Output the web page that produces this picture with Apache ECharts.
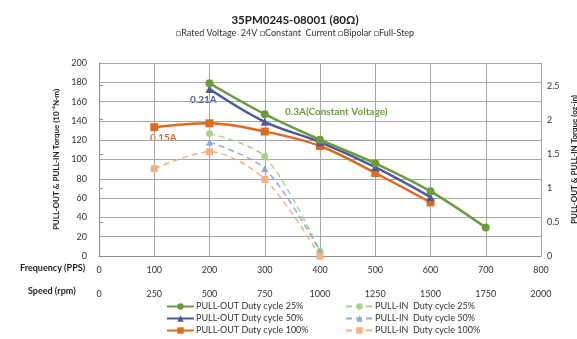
<!DOCTYPE html>
<html><head><meta charset="utf-8">
<script src="https://cdn.jsdelivr.net/npm/echarts@6/dist/echarts.min.js"></script>
<style>html,body{margin:0;padding:0;background:#fff}#c{width:577px;height:339px}</style>
</head><body><div id="c"></div>
<script>
const freqTicks = [0,100,200,300,400,500,600,700,800];
const speedTicks = [0,250,500,750,1000,1250,1500,1750,2000];
const pullOut25 = [[200,179],[300,147],[400,120.5],[500,96],[600,67],[700,29.5]];
const pullOut50 = [[200,173],[300,139],[400,118],[500,92],[600,61]];
const pullOut100 = [[100,133.5],[200,137.5],[300,129],[400,114],[500,86],[600,55.5]];
const pullIn25 = [[200,127],[300,103],[400,5]];
const pullIn50 = [[200,118],[300,90.5],[400,5]];
const pullIn100 = [[100,90.5],[200,108],[300,79.5],[400,0]];
const NM_TO_OZIN = 0.0141612; // 10^-4 N·m -> oz-in

const F = 'Lato, "Liberation Sans", sans-serif';
const C = {g:'#6a9c3e', b:'#4b5a9b', o:'#e0691e', lg:'#a9d18e', lb:'#8faadc', lo:'#f4b183'};

const N = {
  o25:'PULL-OUT Duty cycle 25%', o50:'PULL-OUT Duty cycle 50%', o100:'PULL-OUT Duty cycle 100%',
  i25:'PULL-IN  Duty cycle 25%', i50:'PULL-IN  Duty cycle 50%', i100:'PULL-IN  Duty cycle 100%'
};

function outS(name, data, color, symbol, size){
  return {name, type:'line', data, smooth:0.35, symbol, symbolSize:size, showSymbol:true,
    lineStyle:{color, width:2.5}, itemStyle:{color}, xAxisIndex:0, yAxisIndex:0, z:3};
}
function inS(name, data, color, symbol, size){
  return {name, type:'line', data, smooth:0.3, symbol, symbolSize:size,
    lineStyle:{color, width:1.5, type:[6,4]}, itemStyle:{color}, xAxisIndex:0, yAxisIndex:0, z:2};
}
function leg(name, left, top){
  return {data:[name], left, top, orient:'horizontal', itemWidth:27, itemHeight:8, padding:0,
    textStyle:{fontFamily:F, fontSize:9, color:'#333', padding:[0,0,0,-3]}};
}

const chart = echarts.init(document.getElementById('c'), null, {renderer:'canvas'});
chart.setOption({
  animation:false,
  textStyle:{fontFamily:F},
  title:{text:'35PM024S-08001 (80Ω)', subtext:'□Rated Voltage  24V □Constant  Current □Bipolar □Full-Step',
    left:290, textAlign:'center', top:9, itemGap:3,
    textStyle:{fontFamily:F, fontSize:11.5, fontWeight:'bold', color:'#222'},
    subtextStyle:{fontFamily:F, fontSize:9, color:'#333'}},
  grid:{left:99, right:36, top:63, bottom:83, containLabel:false, outerBoundsMode:'none'},
  legend:[
    leg(N.o25,166,302), leg(N.o50,166,314), leg(N.o100,166,326),
    leg(N.i25,345,302), leg(N.i50,345,314), leg(N.i100,345,326)
  ],
  xAxis:[
    {type:'value', min:freqTicks[0], max:freqTicks[freqTicks.length-1], interval:100, position:'bottom',
     axisLine:{show:true, lineStyle:{color:'#8c8c8c', width:1}}, axisTick:{show:false},
     axisLabel:{fontFamily:F, fontSize:9, color:'#333', margin:10},
     splitLine:{show:true, lineStyle:{color:'#a6a6a6', width:1}}},
    {type:'value', min:speedTicks[0], max:speedTicks[speedTicks.length-1], interval:250, position:'bottom', offset:24,
     axisLine:{show:false}, axisTick:{show:false}, splitLine:{show:false},
     axisLabel:{fontFamily:F, fontSize:9, color:'#333', margin:10, formatter:v=>String(v)}}
  ],
  yAxis:[
    {type:'value', min:0, max:200, interval:20, position:'left',
     name:'PULL-OUT & PULL-IN Torque (10⁻⁴N·m)', nameLocation:'middle', nameGap:30, nameRotate:90,
     nameTextStyle:{fontFamily:F, fontSize:8, fontWeight:'bold', color:'#222'},
     axisLine:{show:true, lineStyle:{color:'#8c8c8c'}}, axisTick:{show:false},
     axisLabel:{fontFamily:F, fontSize:9, color:'#333', margin:12},
     splitLine:{show:true, lineStyle:{color:'#a6a6a6', width:1}}},
    {type:'value', min:0, max:200*NM_TO_OZIN, interval:0.5, position:'right',
     name:'PULL-OUT & PULL-IN Torque (oz-in)', nameLocation:'middle', nameGap:16, nameRotate:90,
     nameTextStyle:{fontFamily:F, fontSize:8, fontWeight:'bold', color:'#222'},
     axisLine:{show:true, lineStyle:{color:'#8c8c8c'}},
     axisTick:{show:true, inside:false, length:4, lineStyle:{color:'#8c8c8c'}},
     axisLabel:{fontFamily:F, fontSize:9, color:'#333', margin:6, showMaxLabel:false,
       formatter:v=> (Math.abs(v*2-Math.round(v*2))<1e-6 ? String(v) : '')},
     splitLine:{show:false}}
  ],
  graphic:[
    {type:'text', left:20, top:264, style:{text:'Frequency (PPS)', font:'bold 9px '+F, fill:'#222'}},
    {type:'text', left:28, top:287, style:{text:'Speed (rpm)', font:'bold 9px '+F, fill:'#222'}},
    {type:'text', left:190, top:95, style:{text:'0.21A', font:'bold 10px '+F, fill:C.b}},
    {type:'text', left:150, top:133, style:{text:'0.15A', font:'bold 10px '+F, fill:C.o}},
    {type:'text', left:285, top:107, style:{text:'0.3A(Constant Voltage)', font:'bold 10px '+F, fill:C.g}}
  ],
  series:[
    inS(N.i25, pullIn25, C.lg, 'circle', 7),
    inS(N.i50, pullIn50, C.lb, 'triangle', 7),
    inS(N.i100, pullIn100, C.lo, 'rect', 7),
    outS(N.o100, pullOut100, C.o, 'rect', 8),
    outS(N.o50, pullOut50, C.b, 'triangle', 8),
    outS(N.o25, pullOut25, C.g, 'circle', 8)
  ]
});
</script></body></html>
